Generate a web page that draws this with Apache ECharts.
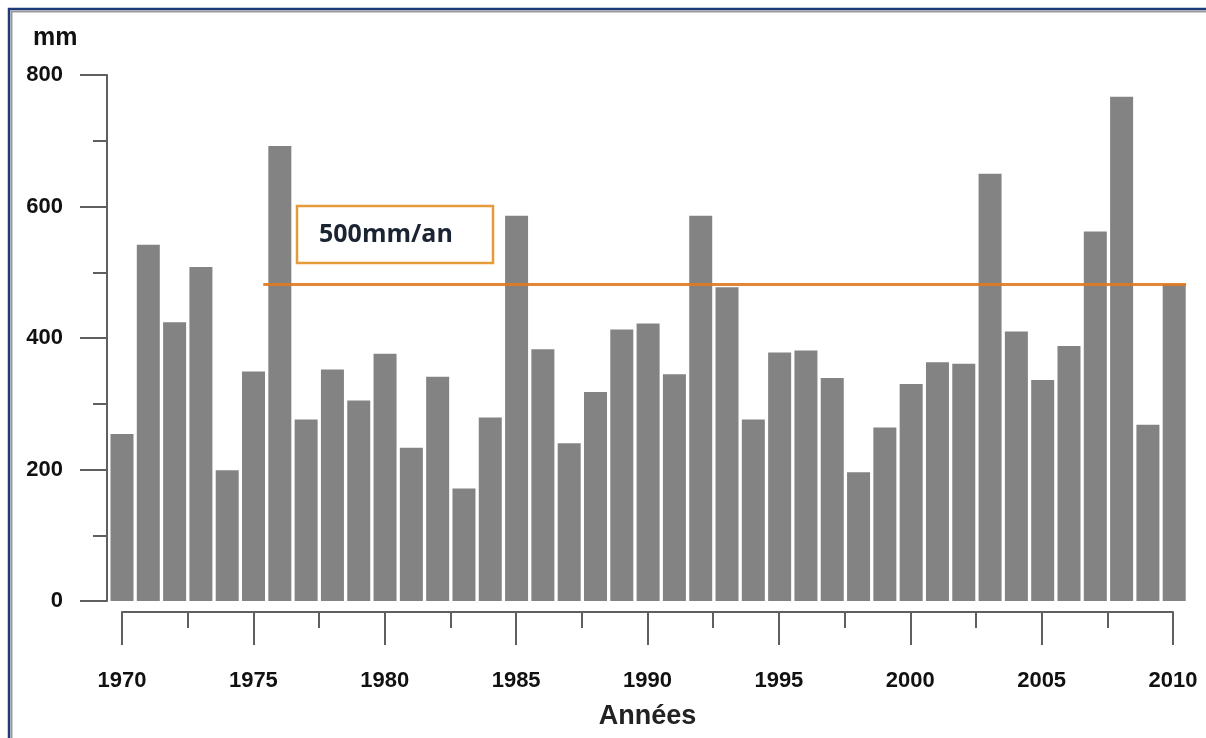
<!DOCTYPE html>
<html>
<head>
<meta charset="utf-8">
<script src="https://cdn.jsdelivr.net/npm/echarts@6/dist/echarts.min.js"></script>
<style>
html,body{margin:0;padding:0;background:#fff;}
#chart{width:1206px;height:738px;}
</style>
</head>
<body>
<div id="chart"></div>
<script>
const years = [1970,1971,1972,1973,1974,1975,1976,1977,1978,1979,
               1980,1981,1982,1983,1984,1985,1986,1987,1988,1989,
               1990,1991,1992,1993,1994,1995,1996,1997,1998,1999,
               2000,2001,2002,2003,2004,2005,2006,2007,2008,2009,2010];
const rainfall = [254,542,424,508,199,349,692,276,352,305,
                  376,233,341,171,279,586,383,240,318,413,
                  422,345,586,477,276,378,381,339,196,264,
                  330,363,361,650,410,336,388,562,767,268,482];
const yTicks = [0,200,400,600,800];
const xTickYears = [1970,1975,1980,1985,1990,1995,2000,2005,2010];
const thresholdValue = 482;
const thresholdStart = 1975.37;
const thresholdEnd = 2010.45;
const thresholdLabel = '500mm/an';
const unitLabel = 'mm';
const xAxisTitle = 'Années';

const chart = echarts.init(document.getElementById('chart'));
const font = '"Liberation Sans", Arial, sans-serif';
const axisColor = '#5f5f5f';

const barData = years.map((y, i) => [y, rainfall[i]]);

chart.setOption({
  animation: false,
  backgroundColor: '#ffffff',
  title: {
    text: unitLabel, left: 28, top: 21,
    textStyle: {fontFamily: font, fontWeight: 'bold', fontSize: 25, color: '#111'}
  },
  grid: [
    {left: 107, right: 16, top: 75, bottom: 137},
    {left: 122, right: 33, top: 75, bottom: 126}
  ],
  xAxis: [
    {type: 'value', gridIndex: 0, min: 1969.43, max: 2010.6, show: false},
    {type: 'value', gridIndex: 1, min: 1970, max: 2010, interval: 5,
     axisLine: {show: true, lineStyle: {color: axisColor, width: 2}},
     axisTick: {show: true, length: 33, lineStyle: {color: axisColor, width: 2}},
     minorTick: {show: true, splitNumber: 2, length: 16, lineStyle: {color: axisColor, width: 2}},
     splitLine: {show: false},
     axisLabel: {margin: 58, fontFamily: font, fontWeight: 'bold', fontSize: 22, color: '#111',
                 formatter: v => xTickYears.includes(v) ? String(v) : ''},
     name: xAxisTitle, nameLocation: 'middle', nameGap: 91,
     nameTextStyle: {fontFamily: font, fontWeight: 'bold', fontSize: 27, color: '#222'}}
  ],
  yAxis: [
    {type: 'value', gridIndex: 0, min: 0, max: 800, interval: 200,
     axisLine: {show: true, lineStyle: {color: axisColor, width: 2}},
     axisTick: {show: true, length: 27, lineStyle: {color: axisColor, width: 2}},
     minorTick: {show: true, splitNumber: 2, length: 14, lineStyle: {color: axisColor, width: 2}},
     splitLine: {show: false},
     axisLabel: {margin: 44, fontFamily: font, fontWeight: 'bold', fontSize: 22, color: '#111',
                 formatter: v => yTicks.includes(v) ? String(v) : ''}},
    {type: 'value', gridIndex: 1, min: 0, max: 800, show: false}
  ],
  series: [{
    type: 'bar',
    xAxisIndex: 0, yAxisIndex: 0,
    data: barData,
    barWidth: 23,
    itemStyle: {color: '#838383'},
    markLine: {
      silent: true,
      symbol: 'none',
      label: {show: false},
      lineStyle: {color: '#E07A1E', width: 3, type: 'solid', opacity: 0.9},
      data: [[{coord: [thresholdStart, thresholdValue]}, {coord: [thresholdEnd, thresholdValue]}]]
    }
  }],
  graphic: [
    {type: 'rect', shape: {x: 9, y: 9, width: 1220, height: 760},
     style: {fill: 'none', stroke: '#1E3A78', lineWidth: 2.5}, z: 100},
    {type: 'rect', shape: {x: 11.5, y: 11.5, width: 1220, height: 760},
     style: {fill: 'none', stroke: '#9a9a9a', lineWidth: 2}, z: 100},
    {type: 'rect', shape: {x: 297, y: 206, width: 196, height: 57},
     style: {fill: '#ffffff', stroke: '#E59B3A', lineWidth: 2.5}, z: 50},
    {type: 'text', x: 319, y: 235, z: 51,
     style: {text: thresholdLabel, fill: '#1b2433', font: 'bold 25px "Open Sans", "Noto Sans", sans-serif',
             textVerticalAlign: 'middle', verticalAlign: 'middle'}}
  ]
});
</script>
</body>
</html>
